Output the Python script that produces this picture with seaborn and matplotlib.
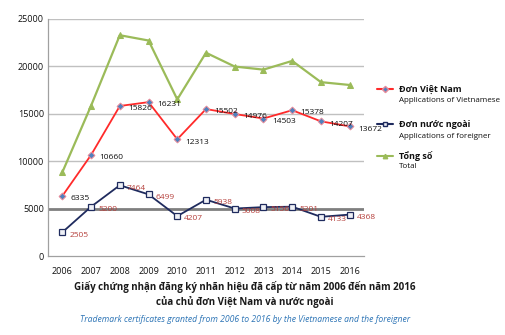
import matplotlib
matplotlib.use("Agg")
import matplotlib.pyplot as plt
from matplotlib.lines import Line2D
import seaborn as sns
import pandas as pd

years = ["2006", "2007", "2008", "2009", "2010", "2011", "2012", "2013", "2014", "2015", "2016"]
vietnamese = [6335, 10660, 15826, 16231, 12313, 15502, 14976, 14503, 15378, 14207, 13672]
foreign = [2505, 5200, 7464, 6499, 4207, 5938, 5008, 5156, 5201, 4133, 4368]
total = [8840, 15860, 23290, 22730, 16520, 21440, 19984, 19659, 20579, 18340, 18040]

y_ticks = [0, 5000, 10000, 15000, 20000, 25000]

df = pd.DataFrame({"year": years, "vn": vietnamese, "fg": foreign, "total": total})
df["x"] = range(len(years))

sns.set_style("white")
plt.rcParams["font.family"] = ["Open Sans", "DejaVu Sans"]

fig = plt.figure(figsize=(5.06, 3.35), dpi=100)
ax = fig.add_axes([48 / 506, 1 - 256 / 335, 316 / 506, 237 / 335])

# gridlines
for v in y_ticks[2:]:
    ax.axhline(v, color="#c0c0c0", lw=1.0, zorder=0)
ax.axhline(5000, color="#7f7f7f", lw=2.0, zorder=1)

green = "#9bbb59"
red = "#ff2a2a"
navy = "#1f2b5e"

sns.lineplot(data=df, x="x", y="total", ax=ax, color=green, lw=1.6,
             marker="^", markersize=4.5, markeredgecolor=green, markerfacecolor=green, zorder=3)
sns.lineplot(data=df, x="x", y="vn", ax=ax, color=red, lw=1.3,
             marker="D", markersize=3.5, markerfacecolor="#4f81bd", markeredgecolor="#e88a9a",
             markeredgewidth=0.7, zorder=4)
sns.lineplot(data=df, x="x", y="fg", ax=ax, color=navy, lw=1.3,
             marker="s", markersize=3.8, markerfacecolor="#eef0f6", markeredgecolor=navy,
             markeredgewidth=0.9, zorder=4)

for xi, v in zip(df["x"], vietnamese):
    ax.annotate(f"{v}", (xi, v), xytext=(6, -2), textcoords="offset points",
                fontsize=6, color="#111111", ha="left", va="center", zorder=6)
for xi, v in zip(df["x"], foreign):
    ax.annotate(f"{v}", (xi, v), xytext=(5, -2), textcoords="offset points",
                fontsize=6, color="#b5403c", ha="left", va="center", zorder=6)

ax.set_xlim(-0.5, len(years) - 0.5)
ax.set_ylim(0, 25000)
ax.set_yticks(y_ticks)
ax.set_yticklabels([str(v) for v in y_ticks], fontsize=6.5, color="#111111")
ax.set_xticks(df["x"])
ax.set_xticklabels(years, fontsize=6.5, color="#111111")
ax.set_xticks([i - 0.5 for i in range(len(years) + 1)], minor=True)
ax.tick_params(axis="x", which="major", length=0, pad=8)
ax.tick_params(axis="x", which="minor", length=4, color="#a0a0a0", width=0.8)
ax.tick_params(axis="y", length=0, pad=3)
ax.set_xlabel("")
ax.set_ylabel("")
for s in ["top", "right"]:
    ax.spines[s].set_visible(False)
for s in ["left", "bottom"]:
    ax.spines[s].set_color("#a0a0a0")
    ax.spines[s].set_linewidth(0.9)

# legend
entries = [
    ("Đơn Việt Nam", "Applications of Vietnamese", red, "D", "#4f81bd", "#e88a9a", 89, 100),
    ("Đơn nước ngoài", "Applications of foreigner", navy, "s", "#eef0f6", navy, 124, 137),
    ("Tổng số", "Total", green, "^", green, green, 156, 167),
]
for head, sub, col, mk, mfc, mec, y1, y2 in entries:
    fy1 = 1 - y1 / 335
    fy2 = 1 - y2 / 335
    fig.add_artist(Line2D([377 / 506, 393 / 506], [fy1, fy1], color=col, lw=1.5,
                          transform=fig.transFigure))
    fig.add_artist(Line2D([385 / 506], [fy1], marker=mk, markersize=3.2, markerfacecolor=mfc,
                          markeredgecolor=mec, transform=fig.transFigure))
    fig.text(399 / 506, fy1, head, fontsize=6.5, fontweight="bold", color="#111111",
             ha="left", va="center")
    fig.text(399 / 506, fy2, sub, fontsize=5.8, color="#111111", ha="left", va="center")

fig.text(245 / 506, 1 - 287 / 335, "Giấy chứng nhận đăng ký nhãn hiệu đã cấp từ năm 2006 đến năm 2016",
         fontsize=7, fontweight="bold", color="#1a1a1a", ha="center", va="center")
fig.text(245 / 506, 1 - 302 / 335, "của chủ đơn Việt Nam và nước ngoài",
         fontsize=7, fontweight="bold", color="#1a1a1a", ha="center", va="center")
fig.text(245 / 506, 1 - 320 / 335,
         "Trademark certificates granted from 2006 to 2016 by the Vietnamese and the foreigner",
         fontsize=6.2, style="italic", color="#2e75b6", ha="center", va="center")

fig.savefig("out.png", dpi=100, facecolor="white")
